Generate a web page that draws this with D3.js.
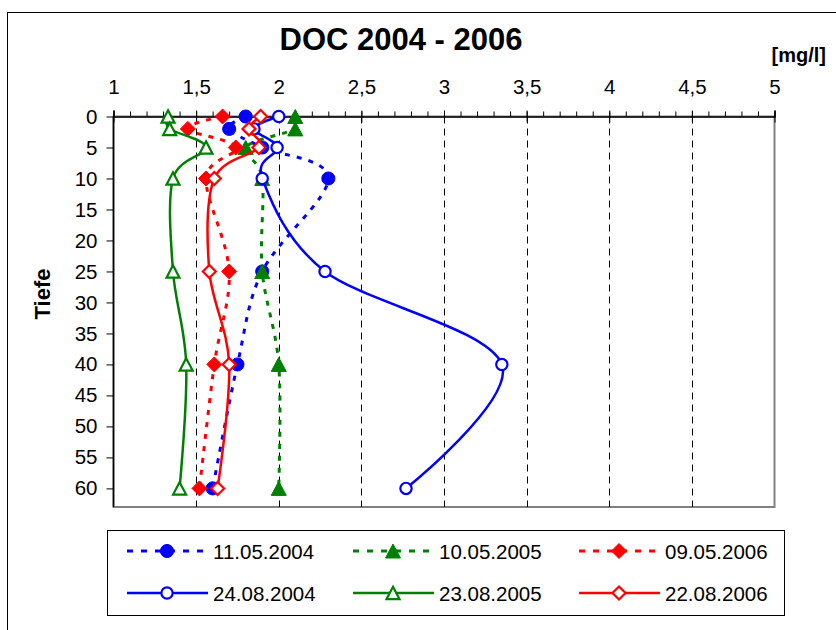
<!DOCTYPE html>
<html><head><meta charset="utf-8">
<script src="https://cdn.jsdelivr.net/npm/d3@7"></script>
<style>
html,body{margin:0;padding:0;background:#fff;}
svg{display:block;font-family:"Liberation Sans",Arial,sans-serif;}
</style></head>
<body>
<svg id="chart" width="836" height="630"></svg>
<script>
// ---- data ----
const depths = [0, 2, 5, 10, 25, 40, 60];
const seriesNames = ["11.05.2004", "10.05.2005", "09.05.2006", "24.08.2004", "23.08.2005", "22.08.2006"];
const v_11_05_2004 = [1.80, 1.70, 1.90, 2.30, 1.90, 1.75, 1.60];
const v_10_05_2005 = [2.10, 2.10, 1.80, 1.90, 1.90, 2.00, 2.00];
const v_09_05_2006 = [1.66, 1.45, 1.74, 1.56, 1.70, 1.61, 1.52];
const v_24_08_2004 = [2.00, 1.85, 1.99, 1.90, 2.28, 3.35, 2.77];
const v_23_08_2005 = [1.33, 1.34, 1.56, 1.36, 1.36, 1.44, 1.40];
const v_22_08_2006 = [1.89, 1.82, 1.88, 1.61, 1.58, 1.70, 1.63];
const xTicks = [1, 1.5, 2, 2.5, 3, 3.5, 4, 4.5, 5];
const yTicks = [0, 5, 10, 15, 20, 25, 30, 35, 40, 45, 50, 55, 60];
const titleText = "DOC 2004 - 2006";
const unitText = "[mg/l]";
const yTitle = "Tiefe";

// ---- styles ----
const styles = [
  {color: "#0000FF", dashed: true,  marker: "circle",   filled: true},
  {color: "#008000", dashed: true,  marker: "triangle", filled: true},
  {color: "#FF0000", dashed: true,  marker: "diamond",  filled: true},
  {color: "#0000FF", dashed: false, marker: "circle",   filled: false},
  {color: "#008000", dashed: false, marker: "triangle", filled: false},
  {color: "#FF0000", dashed: false, marker: "diamond",  filled: false}
];
const allValues = [v_11_05_2004, v_10_05_2005, v_09_05_2006, v_24_08_2004, v_23_08_2005, v_22_08_2006];
const series = seriesNames.map((n, i) => ({
  name: n, style: styles[i],
  points: depths.map((d, j) => ({depth: d, value: allValues[i][j]}))
}));

const svg = d3.select("#chart");
const font = "'Liberation Sans', Arial, sans-serif";

// outer chart border (extends beyond view)
svg.append("rect").attr("x", 7.5).attr("y", 12.5).attr("width", 900).attr("height", 700)
  .attr("fill", "#fff").attr("stroke", "#000").attr("stroke-width", 1);

const x = d3.scaleLinear().domain([1, 5]).range([113.5, 774.5]);
const y = d3.scaleLinear().domain([0, 63]).range([116.5, 507]);

const fmt = d3.formatLocale({decimal: ",", thousands: ".", grouping: [3], currency: ["", "€"]}).format("~g");

// plot area frame (gray)
svg.append("rect").attr("x", x(1)).attr("y", y(0)).attr("width", x(5) - x(1)).attr("height", y(63) - y(0))
  .attr("fill", "#fff").attr("stroke", "#808080").attr("stroke-width", 2);

// gridlines dashed
svg.append("g").selectAll("line").data(xTicks.filter(t => t > 1 && t < 5)).join("line")
  .attr("x1", d => Math.round(x(d)) + 0.5).attr("x2", d => Math.round(x(d)) + 0.5)
  .attr("y1", y(0)).attr("y2", y(63))
  .attr("stroke", "#000").attr("stroke-width", 1).attr("stroke-dasharray", "7,5");

// minor ticks on top axis
const minor = d3.range(10, 51).map(d => d / 10);
const minorAxis = d3.axisTop(x).tickValues(minor).tickSize(5).tickFormat("");
const gMinor = svg.append("g").attr("transform", `translate(0,${y(0)})`).call(minorAxis);
gMinor.select(".domain").remove();
gMinor.selectAll("line").attr("stroke", "#000");

// top axis major
const topAxis = d3.axisTop(x).tickValues(xTicks).tickSize(6).tickPadding(17).tickFormat(fmt);
const gTop = svg.append("g").attr("transform", `translate(0,${y(0)})`).call(topAxis);
gTop.select(".domain").attr("stroke", "#000").attr("stroke-width", 1.5);
gTop.selectAll(".tick line").attr("y1", 6).attr("y2", -6).attr("stroke", "#000");
gTop.selectAll(".tick text").attr("font-size", 20.5).attr("font-family", font).attr("fill", "#000");

// left axis
const leftAxis = d3.axisLeft(y).tickValues(yTicks).tickSize(7).tickPadding(9);
const gLeft = svg.append("g").attr("transform", `translate(${x(1)},0)`).call(leftAxis);
gLeft.select(".domain").attr("stroke", "#000").attr("stroke-width", 1.5).attr("d", `M0,${y(0)}V${y(63)}`);
gLeft.selectAll(".tick line").attr("stroke", "#000");
gLeft.selectAll(".tick text").attr("font-size", 20.5).attr("font-family", font).attr("fill", "#000");

// marker path builder
function markerPath(type, filled) {
  if (type === "circle") return d3.symbol(d3.symbolCircle, filled ? 135 : 100)();
  if (type === "diamond") { const h = filled ? 7.5 : 6.5; return `M0,${-h}L${h},0L0,${h}L${-h},0Z`; }
  if (type === "triangle") { const w = filled ? 7.5 : 6.5, hh = filled ? 7 : 6.2; return `M0,${-hh}L${w},${hh}L${-w},${hh}Z`; }
}

const line = d3.line().x(d => x(d.value)).y(d => y(d.depth)).curve(d3.curveCatmullRom.alpha(0));

series.forEach(s => {
  const g = svg.append("g");
  g.append("path").attr("d", line(s.points)).attr("fill", "none")
    .attr("stroke", s.style.color).attr("stroke-width", s.style.dashed ? 3 : 2.5)
    .attr("stroke-dasharray", s.style.dashed ? "5,7" : null);
  g.selectAll("path.m").data(s.points).join("path").attr("class", "m")
    .attr("transform", d => `translate(${x(d.value)},${y(d.depth)})`)
    .attr("d", markerPath(s.style.marker, s.style.filled))
    .attr("fill", s.style.filled ? s.style.color : "#fff")
    .attr("stroke", s.style.color).attr("stroke-width", s.style.filled ? 1 : 2.2);
});

// title and axis titles
svg.append("text").attr("x", 401).attr("y", 50).attr("text-anchor", "middle")
  .attr("font-size", 31).attr("font-weight", "bold").attr("font-family", font).text(titleText);
svg.append("text").attr("x", 826).attr("y", 62).attr("text-anchor", "end")
  .attr("font-size", 20).attr("font-weight", "bold").attr("font-family", font).text(unitText);
svg.append("text").attr("transform", "translate(50,294) rotate(-90)").attr("text-anchor", "middle")
  .attr("font-size", 22).attr("font-weight", "bold").attr("font-family", font).text(yTitle);

// legend
svg.append("rect").attr("x", 107.5).attr("y", 530.5).attr("width", 677).attr("height", 85)
  .attr("fill", "#fff").attr("stroke", "#000").attr("stroke-width", 1);
const legX = [127, 353, 579], legY = [551, 593];
series.forEach((s, i) => {
  const cx = legX[i % 3], cy = legY[Math.floor(i / 3)];
  const g = svg.append("g").attr("transform", `translate(${cx},${cy})`);
  g.append("line").attr("x1", 0).attr("x2", 81).attr("y1", 0).attr("y2", 0)
    .attr("stroke", s.style.color).attr("stroke-width", s.style.dashed ? 3 : 2.5)
    .attr("stroke-dasharray", s.style.dashed ? "6,8" : null);
  g.append("path").attr("transform", "translate(40,0)")
    .attr("d", markerPath(s.style.marker, s.style.filled))
    .attr("fill", s.style.filled ? s.style.color : "#fff")
    .attr("stroke", s.style.color).attr("stroke-width", s.style.filled ? 1 : 2.2);
  g.append("text").attr("x", 86).attr("y", 7.5).attr("font-size", 20.5).attr("font-family", font)
    .text(s.name);
});
</script>
</body></html>
